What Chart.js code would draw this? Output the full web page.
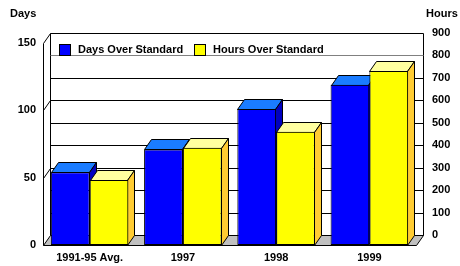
<!DOCTYPE html>
<html>
<head>
<meta charset="utf-8">
<script src="https://cdn.jsdelivr.net/npm/chart.js@4.4.0/dist/chart.umd.min.js"></script>
<style>
  html, body { margin: 0; padding: 0; background: #fff; overflow: hidden; }
  canvas { display: block; }
</style>
</head>
<body>
<canvas id="chart" width="460" height="266"></canvas>
<script>
const categories = ['1991-95 Avg.', '1997', '1998', '1999'];
const daysOver = [54, 71, 101, 119];
const hoursOver = [290, 433, 505, 775];
const seriesNames = ['Days Over Standard', 'Hours Over Standard'];

const FONT = 'bold 11px "Liberation Sans", Arial, sans-serif';
const depth = { dx: 7, dy: -10 };

// face colours per dataset: [front, top, side]
const faces = [
    ['#0000ff', '#1a7cff', '#0000c0'],
    ['#ffff00', '#ffffa0', '#ffcc33']
];

function poly(ctx, pts, fill) {
    ctx.beginPath();
    ctx.moveTo(pts[0][0], pts[0][1]);
    for (let i = 1; i < pts.length; i++) ctx.lineTo(pts[i][0], pts[i][1]);
    ctx.closePath();
    if (fill) { ctx.fillStyle = fill; ctx.fill(); }
    ctx.stroke();
}

const box3d = {
    id: 'box3d',
    beforeDatasetsDraw(chart) {
        const { ctx, chartArea: a, scales } = chart;
        const { dx, dy } = depth;
        const L = Math.round(a.left) + 0.5, R = Math.round(a.right) + 0.5;
        const T = Math.round(a.top) + 0.5, B = Math.round(a.bottom) + 0.5;
        ctx.save();
        ctx.lineWidth = 1;
        ctx.strokeStyle = '#000';

        // back wall
        poly(ctx, [[L + dx, T + dy], [R + dx, T + dy], [R + dx, B + dy], [L + dx, B + dy]], '#fff');

        // gridlines on the back wall (hours scale)
        scales.y1.ticks.forEach(t => {
            if (t.value <= 0 || t.value >= 900) return;
            const y = Math.round(scales.y1.getPixelForValue(t.value)) + dy + 0.5;
            ctx.strokeStyle = t.value === 800 ? '#808080' : '#000';
            ctx.beginPath();
            ctx.moveTo(L + dx, y);
            ctx.lineTo(R + dx, y);
            ctx.stroke();
        });
        ctx.strokeStyle = '#000';

        // left wall: front edge and diagonals at day ticks
        ctx.beginPath();
        ctx.moveTo(L, B);
        ctx.lineTo(L, T);
        scales.y.ticks.forEach(t => {
            if (t.value <= 0) return;
            const y = Math.round(scales.y.getPixelForValue(t.value)) + 0.5;
            ctx.moveTo(L, y);
            ctx.lineTo(L + dx, y + dy);
        });
        ctx.stroke();

        // floor
        poly(ctx, [[L, B], [R, B], [R + dx, B + dy], [L + dx, B + dy]], '#c0c0c0');

        // top and side faces, left to right
        const metas = [chart.getDatasetMeta(0), chart.getDatasetMeta(1)];
        for (let i = 0; i < categories.length; i++) {
            metas.forEach((meta, d) => {
                const el = meta.data[i];
                const x0 = Math.round(el.x - el.width / 2) + 0.5;
                const x1 = Math.round(el.x + el.width / 2) - 0.5;
                const yt = Math.round(el.y) + 0.5;
                const yb = Math.round(el.base) + 0.5;
                poly(ctx, [[x0, yt], [x1, yt], [x1 + dx, yt + dy], [x0 + dx, yt + dy]], faces[d][1]);
                poly(ctx, [[x1, yt], [x1 + dx, yt + dy], [x1 + dx, yb + dy], [x1, yb]], faces[d][2]);
            });
        }
        ctx.restore();
    },
    afterDraw(chart) {
        const { ctx } = chart;
        ctx.save();
        ctx.font = FONT;
        ctx.fillStyle = '#000';
        ctx.textBaseline = 'middle';
        ctx.textAlign = 'left';
        ctx.fillText('Days', 10, 14);
        ctx.fillText('Hours', 426, 14);

        // legend inside the plot
        const legendX = [59, 194];
        chart.data.datasets.forEach((ds, d) => {
            ctx.fillStyle = faces[d][0];
            ctx.fillRect(legendX[d], 44, 12, 12);
            ctx.strokeStyle = '#000';
            ctx.lineWidth = 1;
            ctx.strokeRect(legendX[d] + 0.5, 44.5, 11, 11);
            ctx.fillStyle = '#000';
            ctx.fillText(ds.label, legendX[d] + 19, 50);
        });
        ctx.restore();
    }
};

const tickFont = { family: '"Liberation Sans", Arial, sans-serif', size: 11, weight: 'bold' };

new Chart(document.getElementById('chart'), {
    type: 'bar',
    data: {
        labels: categories,
        datasets: [{
            label: seriesNames[0],
            data: daysOver,
            yAxisID: 'y',
            backgroundColor: faces[0][0],
            borderColor: '#000',
            borderWidth: 1,
            borderSkipped: false
        }, {
            label: seriesNames[1],
            data: hoursOver,
            yAxisID: 'y1',
            backgroundColor: faces[1][0],
            borderColor: '#000',
            borderWidth: 1,
            borderSkipped: false
        }]
    },
    options: {
        responsive: false,
        animation: false,
        layout: { padding: { top: 43, left: 0, right: 0, bottom: 0 } },
        categoryPercentage: 0.832,
        barPercentage: 1,
        plugins: { legend: { display: false }, tooltip: { enabled: false } },
        scales: {
            x: {
                grid: { display: false, drawTicks: false },
                border: { display: false },
                ticks: { font: tickFont, color: '#000', padding: 6, maxRotation: 0 },
                afterFit: s => { s.height = 21; }
            },
            y: {
                position: 'left',
                min: 0, max: 150,
                grid: { display: false, drawTicks: false },
                border: { display: false },
                ticks: { stepSize: 50, font: tickFont, color: '#000', padding: 7 },
                afterFit: s => { s.width = 43; }
            },
            y1: {
                position: 'right',
                min: 0, max: 900,
                grid: { display: false, drawTicks: true, tickLength: 12 },
                border: { display: false },
                ticks: { stepSize: 100, font: tickFont, color: '#000', padding: 4, labelOffset: -10 },
                afterFit: s => { s.width = 44; }
            }
        }
    },
    plugins: [box3d]
});
</script>
</body>
</html>
